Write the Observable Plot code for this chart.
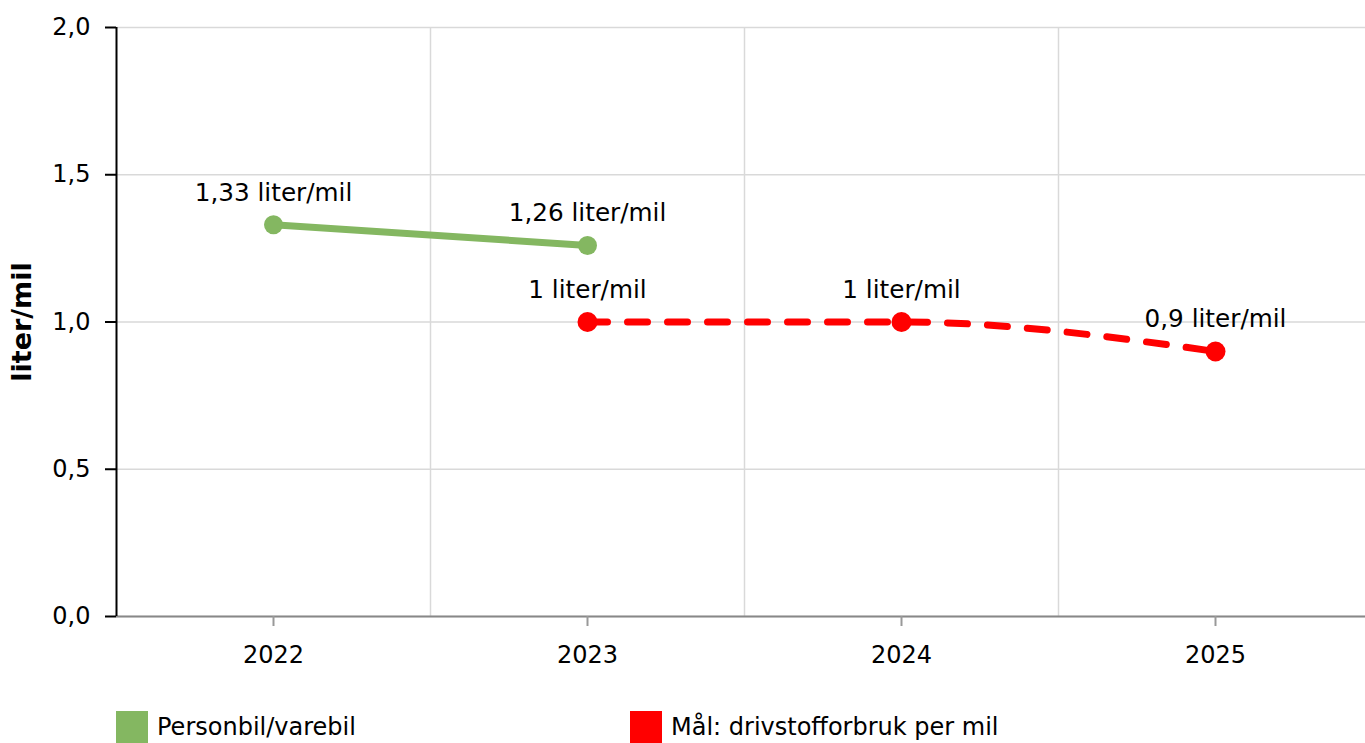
<!DOCTYPE html>
<html>
<head>
<meta charset="utf-8">
<script src="https://cdn.jsdelivr.net/npm/d3@7"></script>
<script src="https://cdn.jsdelivr.net/npm/@observablehq/plot@0.6"></script>
<style>
  html, body { margin: 0; padding: 0; background: #fff; }
  body { width: 1365px; height: 743px; overflow: hidden; font-family: "DejaVu Sans", Verdana, sans-serif; }
  #chart svg { display: block; }
  .legend { position: relative; height: 43px; margin-top: 11px; font-size: 24px; color: #000; }
  .legend .item { position: absolute; top: 0; display: flex; align-items: center; height: 32px; white-space: nowrap; }
  .legend .sw { width: 32px; height: 32px; margin-right: 9px; }
</style>
</head>
<body>
<div id="chart"></div>
<div class="legend" id="legend"></div>
<script>
const years = [2022, 2023, 2024, 2025];
const personbilYears = [2022, 2023];
const personbilValues = [1.33, 1.26];
const maalYears = [2023, 2024, 2025];
const maalValues = [1, 1, 0.9];
const yTicks = [0, 0.5, 1, 1.5, 2];
const seriesNames = ["Personbil/varebil", "Mål: drivstofforbruk per mil"];
const seriesColors = ["#84b761", "#ff0000"];
const unit = "liter/mil";

const fmtNum = v => String(v).replace(".", ",");
const personbil = personbilYears.map((x, i) => ({x, y: personbilValues[i], label: fmtNum(personbilValues[i]) + " " + unit}));
const maal = maalYears.map((x, i) => ({x, y: maalValues[i], label: fmtNum(maalValues[i]) + " " + unit}));
const midYears = years.slice(0, -1).map(y => y + 0.5);

const plot = Plot.plot({
  width: 1365,
  height: 700,
  marginTop: 27,
  marginBottom: 84,
  marginLeft: 116,
  marginRight: -7,
  style: {fontFamily: "DejaVu Sans, Verdana, sans-serif", fontSize: "24px", color: "#000", background: "#fff"},
  x: {domain: [years[0] - 0.5, years[years.length - 1] + 0.5], axis: null},
  y: {domain: [0, 2], axis: null},
  marks: [
    Plot.gridY(yTicks, {stroke: "#d9d9d9", strokeOpacity: 1, strokeWidth: 1.5}),
    Plot.gridX(midYears, {stroke: "#d9d9d9", strokeOpacity: 1, strokeWidth: 1.5}),
    Plot.ruleY([0], {stroke: "#888", strokeWidth: 2}),
    Plot.ruleX([years[0] - 0.5], {stroke: "#000", strokeWidth: 2}),
    Plot.axisY({ticks: yTicks, tickSize: 11, tickPadding: 15, tickFormat: d => d.toFixed(1).replace(".", ","), stroke: "#000", strokeWidth: 2, label: null, fontSize: 24}),
    Plot.axisX({ticks: years, tickSize: 10, tickPadding: 19, tickFormat: d => String(d), stroke: "#999", strokeWidth: 2, label: null, fontSize: 24}),
    Plot.text([unit], {frameAnchor: "left", textAnchor: "middle", dx: -94, rotate: -90, fontWeight: "bold", fontSize: 27}),
    Plot.line(personbil, {x: "x", y: "y", stroke: seriesColors[0], strokeWidth: 7}),
    Plot.dot(personbil, {x: "x", y: "y", r: 9.5, fill: seriesColors[0]}),
    Plot.line(maal, {x: "x", y: "y", stroke: seriesColors[1], strokeWidth: 7, strokeDasharray: "20,20", curve: "monotone-x"}),
    Plot.dot(maal, {x: "x", y: "y", r: 10, fill: seriesColors[1]}),
    Plot.text(personbil, {x: "x", y: "y", text: "label", dy: -32, fontSize: 24.7, fill: "#000"}),
    Plot.text(maal, {x: "x", y: "y", text: "label", dy: -32, fontSize: 24.7, fill: "#000"})
  ]
});
document.getElementById("chart").appendChild(plot);

const legend = document.getElementById("legend");
const lefts = [116, 630];
seriesNames.forEach((name, i) => {
  const item = document.createElement("div");
  item.className = "item";
  item.style.left = lefts[i] + "px";
  const sw = document.createElement("div");
  sw.className = "sw";
  sw.style.background = seriesColors[i];
  const t = document.createElement("span");
  t.textContent = name;
  item.appendChild(sw);
  item.appendChild(t);
  legend.appendChild(item);
});
</script>
</body>
</html>
